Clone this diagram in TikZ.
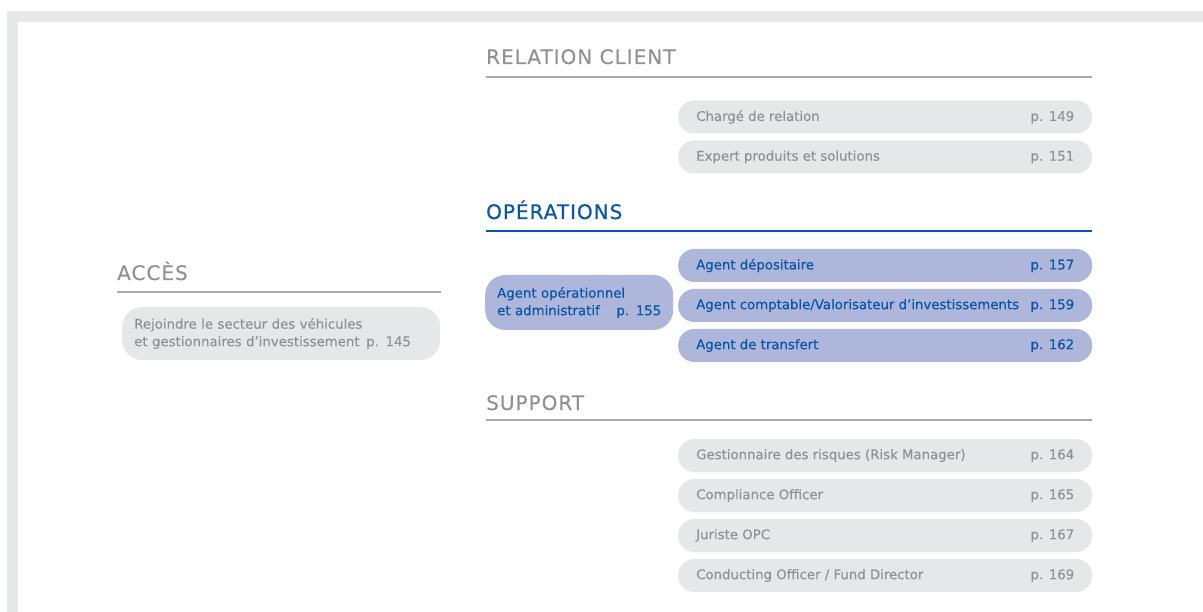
\documentclass[tikz,border=0pt]{standalone}
\usepackage{fontspec}
\setmainfont{DejaVu Sans}
\usetikzlibrary{positioning}

\definecolor{boxgrey}{RGB}{230,231,232}
\definecolor{textgrey}{RGB}{145,145,149}
\definecolor{rulegrey}{RGB}{167,169,172}
\definecolor{opblue}{RGB}{10,86,166}
\definecolor{boxblue}{RGB}{174,182,220}

\tikzset{
  jobbox/.style={anchor=west, fill=boxgrey, text=textgrey, rounded corners=16pt,
    minimum height=33pt, inner xsep=18pt, inner ysep=0pt,
    font=\addfontfeatures{FakeBold=0.3}\fontsize{13.3}{17.5}\selectfont},
  opbox/.style={jobbox, fill=boxblue, text=opblue,
    font=\addfontfeatures{FakeBold=0.5}\fontsize{13.3}{17.5}\selectfont},
  sectitle/.style={anchor=base west, inner sep=0pt, text=textgrey,
    font=\addfontfeatures{LetterSpace=5,FakeBold=0.3}\fontsize{20}{22}\selectfont},
  secrule/.style={rulegrey, line width=2pt},
}
\newcommand{\jobline}[2]{\makebox[378pt]{#1\hfill #2}}

\begin{document}
\begin{tikzpicture}[x=1pt, y=-1pt]
\useasboundingbox (0,0) rectangle (1203,612);
% frame
\fill[boxgrey] (7,11) rectangle (1203,22);
\fill[boxgrey] (7,11) rectangle (18,612);

% acces
\node[sectitle] (acces) at (117,280) {ACCÈS};
\draw[secrule] (117,292) -- (441,292);
\node[jobbox, minimum height=53pt, rounded corners=20pt, inner xsep=12pt,
  text width=294pt, align=left] (rejoindre) at (122,333.5)
  {Rejoindre le secteur des véhicules\\et gestionnaires d’investissement\enspace p. 145};

% relation client
\node[sectitle] (relation) at (486,64) {RELATION CLIENT};
\draw[secrule] (486,77) -- (1092,77);
\node[jobbox] (charge) at (678,117) {\jobline{Chargé de relation}{p. 149}};
\node[jobbox] (expert) at (678,157) {\jobline{Expert produits et solutions}{p. 151}};

% operations
\node[sectitle, text=opblue,
  font=\addfontfeatures{LetterSpace=5,FakeBold=0.5}\fontsize{20}{22}\selectfont]
  (operations) at (486,219) {OPÉRATIONS};
\draw[secrule, opblue] (486,231) -- (1092,231);
\node[opbox, rounded corners=20pt, minimum height=55pt, inner xsep=12pt,
  text width=164pt, align=left] (opadmin) at (485,302.5)
  {Agent opérationnel\\et administratif\hfill p. 155};
\node[opbox] (depositaire) at (678,265.5) {\jobline{Agent dépositaire}{p. 157}};
\node[opbox] (comptable) at (678,305.5)
  {\jobline{Agent comptable/Valorisateur d’investissements}{p. 159}};
\node[opbox] (transfert) at (678,345.5) {\jobline{Agent de transfert}{p. 162}};

% support
\node[sectitle] (support) at (486,410) {SUPPORT};
\draw[secrule] (486,420) -- (1092,420);
\node[jobbox] (risques) at (678,455.5) {\jobline{Gestionnaire des risques (Risk Manager)}{p. 164}};
\node[jobbox] (compliance) at (678,495.5) {\jobline{Compliance Officer}{p. 165}};
\node[jobbox] (juriste) at (678,535.5) {\jobline{Juriste OPC}{p. 167}};
\node[jobbox] (conducting) at (678,575.5) {\jobline{Conducting Officer / Fund Director}{p. 169}};
\end{tikzpicture}
\end{document}
